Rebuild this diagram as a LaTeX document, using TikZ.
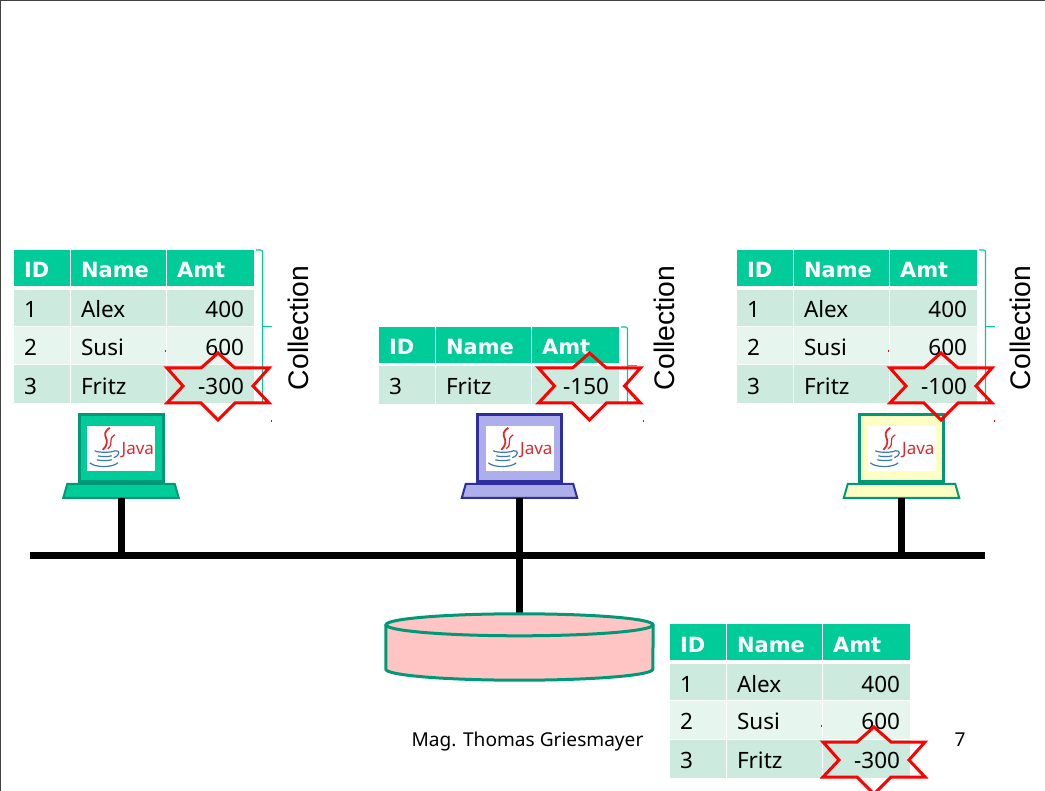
\documentclass[tikz,border=0pt]{standalone}
\usepackage{fontspec}
\setmainfont{Noto Sans}
\newfontfamily\collfont{Liberation Sans}
\newfontfamily\headfont{DejaVu Sans}
\usetikzlibrary{calc, positioning}
\definecolor{headgreen}{HTML}{00cc99}
\definecolor{edgegreen}{HTML}{009977}
\definecolor{rowdark}{HTML}{cceadd}
\definecolor{rowlight}{HTML}{e7f5ef}
\definecolor{lapblue}{HTML}{aeaeea}
\definecolor{edgeblue}{HTML}{2e2e9e}
\definecolor{lapyellow}{HTML}{ffffc4}
\definecolor{storepink}{HTML}{ffc4c4}
\definecolor{javared}{HTML}{e3262e}
\definecolor{javablue}{HTML}{3a78b8}

\tikzset{
    javalogo/.pic={
        \draw[javared, line width=1.8pt] (23,2) .. controls (11,10) and (27,13) .. (16,24);
        \draw[javared, line width=1.2pt] (28,9) .. controls (20,14) and (28,17) .. (21,23);
        \draw[javablue, line width=1.2pt] (8,25) .. controls (12,27) and (24,27) .. (28,25)
            (11,30) .. controls (14,31) and (22,31) .. (25,30)
            (10,34) .. controls (14,35) and (21,35) .. (25,34)
            (28,25) .. controls (34,24) and (33,30) .. (27,32)
            (3,37) .. controls (8,42) and (26,42) .. (31,37);
        \node[javared, inner sep=0pt, font=\fontsize{17}{19}\selectfont] (word) at (51,24.5) {Java};
    },
    starburst/.pic={
        \draw[red, line width=3pt, miter limit=10] (0,-33) -- (17,-18) -- (51,-18) -- (35,0) -- (51,17) -- (17,17)
            -- (0,34) -- (-17,17) -- (-51,17) -- (-35,0) -- (-51,-18) -- (-17,-18) -- cycle;
        \fill[red] (-53,-35.5) rectangle ++(1,2);
        \fill[red] (53,34) rectangle ++(1,2);
    }
}

% one table row: name, cell style, id, who, amount, placement
\newcommand{\tablerow}[6]{
    \node[#2, idcol, #6] (#1id) {#3};
    \node[#2, namecol, right=1pt of #1id] (#1name) {#4};
    \node[#2, amtcol, right=1pt of #1name] (#1amt) {#5};
}
% bracket beside a table, top cell to bottom cell
\newcommand{\bracket}[2]{
    \coordinate (#1tip) at ($(#1.north east)!.5!(#2.south east)+(18,0)$);
    \draw[bracketline] ($(#1.north east)+(2,0)$) -- ++(6.5,0) -- ($(#2.south east)+(8.5,0)$);
    \draw[bracketline] ($(#1tip)+(-10,0)$) -- (#1tip);
}
% laptop: name, x, fill, border
\newcommand{\laptop}[4]{
    \node[screenbox, fill=#3, draw=#4] (#1screen) at (#2,448.5) {};
    \node[javabox] (#1java) at (#1screen) {};
    \pic (#1logo) at (#1java.north west) {javalogo};
    \node[basebox] (#1base) at (#2,491) {};
    \draw[fill=#3, draw=#4, line width=2pt] (#1base.south west) -- ($(#1base.north west)+(4,0)$)
        -- ($(#1base.north east)+(-4,0)$) -- (#1base.south east) -- cycle;
}

\begin{document}
\begin{tikzpicture}[x=1pt, y=-1pt,
        headcell/.style={fill=headgreen, text=white, minimum height=36pt, inner ysep=0pt, inner xsep=10pt,
            outer sep=0pt, text height=20pt, text depth=0pt,
            font=\headfont\fontsize{21}{25}\selectfont\bfseries, amtalign/.style={align=left}},
        rowcell/.style={fill=rowdark, minimum height=36pt, inner ysep=0pt, inner xsep=10pt,
            outer sep=0pt, text height=20pt, text depth=0pt,
            font=\fontsize{22.5}{26}\selectfont, amtalign/.style={align=right}},
        rowcellb/.style={rowcell, fill=rowlight, minimum height=37.5pt},
        rowcellc/.style={rowcell, minimum height=38pt},
        idcol/.style={text width=36pt, align=left},
        namecol/.style={text width=75pt, align=left},
        amtcol/.style={text width=67pt, amtalign},
        bracketline/.style={headgreen, line width=1.2pt, rounded corners=2pt},
        colltext/.style={rotate=90, inner sep=0pt, font=\collfont\fontsize{28.3}{32}\selectfont},
        screenbox/.style={minimum width=84pt, minimum height=67pt, inner sep=0pt, line width=3pt},
        javabox/.style={fill=white, minimum width=68pt, minimum height=45pt, inner sep=0pt},
        basebox/.style={minimum width=115.5pt, minimum height=14pt, inner sep=0pt, outer sep=0pt},
        wire/.style={black, line width=7pt},
        storebody/.style={minimum width=267pt, minimum height=44pt, inner sep=0pt},
        storeline/.style={draw=edgegreen, line width=3pt, fill=storepink},
        footer/.style={inner sep=0pt, font=\fontsize{19.1}{23}\selectfont}]
    \useasboundingbox (0,0) rectangle (1045,791);
    \draw[black!75, line width=1pt] (0.5,791) -- (0.5,0.5) -- (1045,0.5);

    % the three clients
    \tablerow{tah}{headcell}{ID}{Name}{Amt}{anchor=north west, at={(14,250)}}
    \tablerow{taa}{rowcell}{1}{Alex}{400}{below=4pt of tahid}
    \tablerow{tab}{rowcellb}{2}{Susi}{600}{below=1pt of taaid}
    \tablerow{tac}{rowcellc}{3}{Fritz}{-300}{below=1pt of tabid}
    \bracket{tahamt}{tacamt}
    \node[colltext] (tacoll) at (298.5,328) {Collection};

    \tablerow{tbh}{headcell}{ID}{Name}{Amt}{anchor=north west, at={(379,327)}}
    \tablerow{tbc}{rowcellc}{3}{Fritz}{-150}{below=3pt of tbhid}
    \bracket{tbhamt}{tbcamt}
    \node[colltext] (tbcoll) at (664.5,328) {Collection};

    \tablerow{tch}{headcell}{ID}{Name}{Amt}{anchor=north west, at={(737,250)}}
    \tablerow{tca}{rowcell}{1}{Alex}{400}{below=4pt of tchid}
    \tablerow{tcb}{rowcellb}{2}{Susi}{600}{below=1pt of tcaid}
    \tablerow{tcc}{rowcellc}{3}{Fritz}{-100}{below=1pt of tcbid}
    \bracket{tchamt}{tccamt}
    \node[colltext] (tccoll) at (1020.5,328) {Collection};

    \laptop{la}{121}{headgreen}{edgegreen}
    \laptop{lb}{519.5}{lapblue}{edgeblue}
    \laptop{lc}{901.5}{lapyellow}{edgegreen}

    % the bus and the database
    \coordinate (busleft) at (30,555.5);
    \coordinate (busright) at (985,555.5);
    \node[storebody] (store) at (519.5,647) {};
    \draw[wire] (busleft) -- (busright);
    \draw[wire] (labase.south) -- (labase.south |- busleft);
    \draw[wire] (lbbase.south) -- (lbbase.south |- busleft);
    \draw[wire] (lcbase.south) -- (lcbase.south |- busleft);
    \draw[wire] (store.north |- busleft) -- (store.north);
    \draw[storeline] (store.north west) -- (store.south west) arc [start angle=180, end angle=0, x radius=133.5, y radius=11]
        -- (store.north east);
    \draw[storeline] (store.north) ellipse [x radius=133.5, y radius=11];

    \tablerow{tdh}{headcell}{ID}{Name}{Amt}{anchor=north west, at={(670,624)}}
    \tablerow{tda}{rowcell}{1}{Alex}{400}{below=4pt of tdhid}
    \tablerow{tdb}{rowcellb}{2}{Susi}{600}{below=1pt of tdaid}
    \tablerow{tdc}{rowcellc}{3}{Fritz}{-300}{below=1pt of tdbid}

    \node[footer] (author) at (527.5,742) {Mag. Thomas Griesmayer};
    \node[footer] (pageno) at (960,740) {7};

    % stars last, they lie over everything
    \pic (sa) at (218,386) {starburst};
    \pic (sb) at (589.5,386) {starburst};
    \pic (sc) at (941,386) {starburst};
    \pic (sd) at (874,760) {starburst};
\end{tikzpicture}
\end{document}
